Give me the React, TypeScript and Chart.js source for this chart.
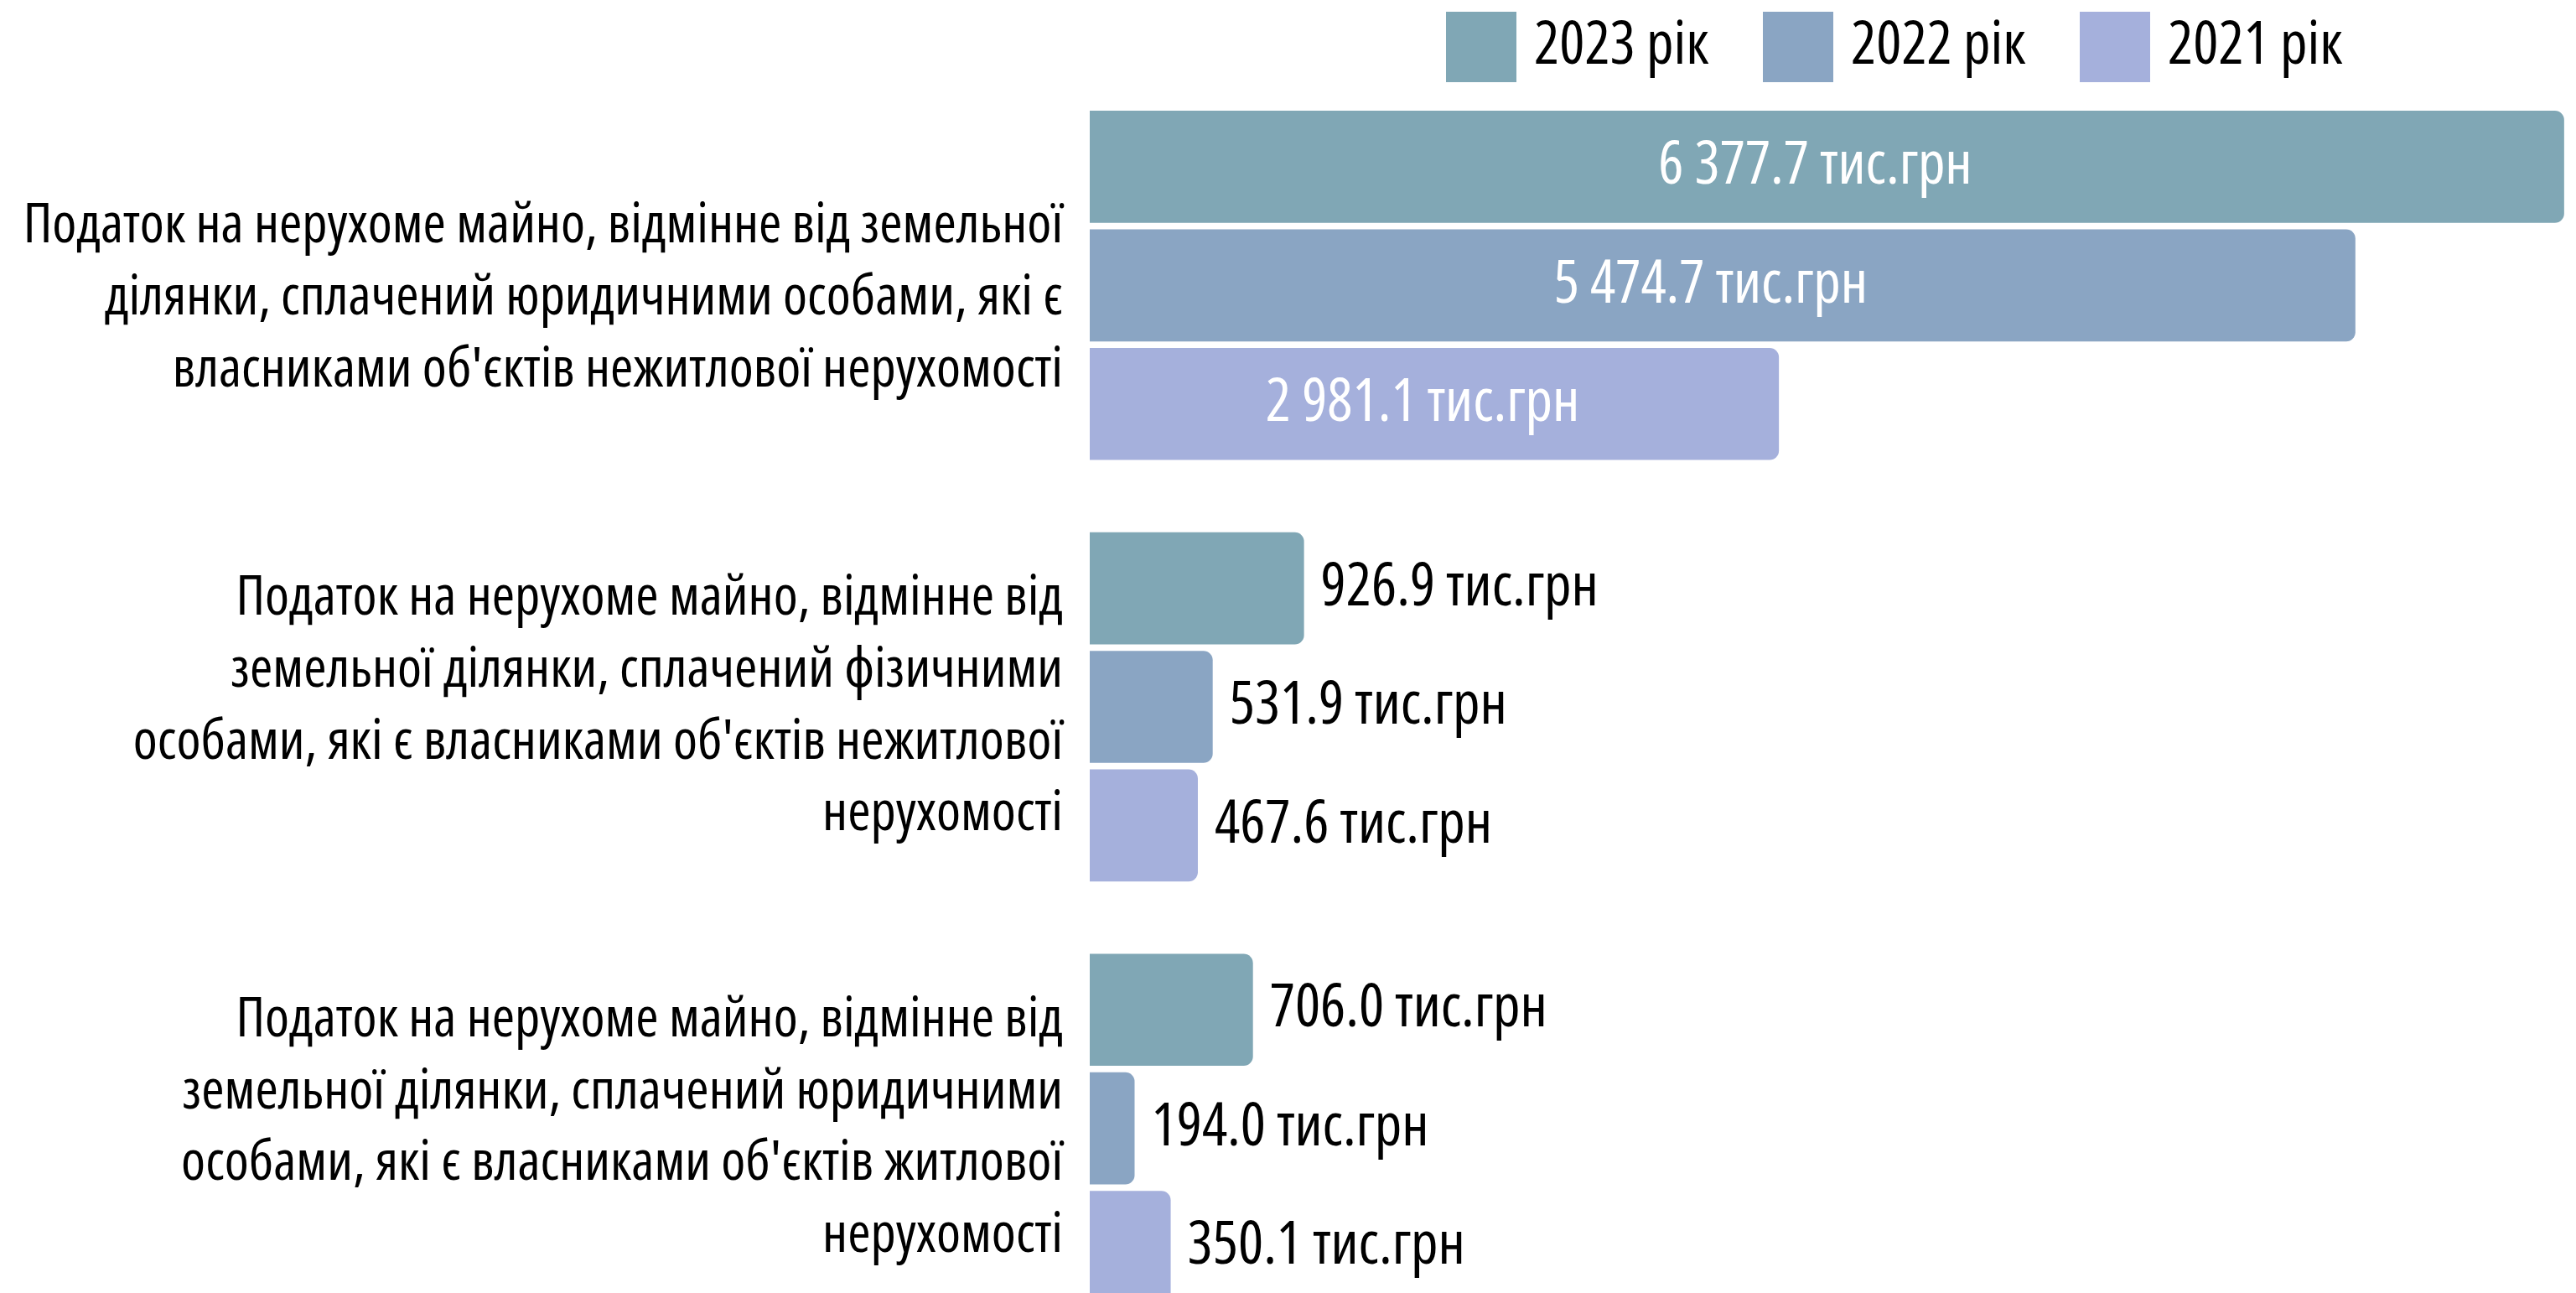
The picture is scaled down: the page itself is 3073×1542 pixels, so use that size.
import React, { useEffect, useRef } from "react";
import { Chart, registerables } from "chart.js";

Chart.register(...registerables);

// ---- data ----
const CATEGORIES: string[][] = [
  [
    "Податок на нерухоме майно, відмінне від земельної",
    "ділянки, сплачений юридичними особами, які є",
    "власниками об'єктів нежитлової нерухомості",
  ],
  [
    "Податок на нерухоме майно, відмінне від",
    "земельної ділянки, сплачений фізичними",
    "особами, які є власниками об'єктів нежитлової",
    "нерухомості",
  ],
  [
    "Податок на нерухоме майно, відмінне від",
    "земельної ділянки, сплачений юридичними",
    "особами, які є власниками об'єктів житлової",
    "нерухомості",
  ],
];
const SERIES_NAMES = ["2023 рік", "2022 рік", "2021 рік"];
const VALUES_2023 = [6377.7, 926.9, 706.0];
const VALUES_2022 = [5474.7, 531.9, 194.0];
const VALUES_2021 = [2981.1, 467.6, 350.1];
const UNIT = "тис.грн";
const X_MAX = 6400;

// ---- styles ----
const COLORS = ["#80A7B5", "#8AA5C3", "#A5B0DC"];
const FAMILY = '"Open Sans", "Roboto Condensed", sans-serif';
const STRETCH = "condensed";
const TICK_SIZE = 66;
const LABEL_SIZE = 71;
const CANVAS_W = 3057;
const CANVAS_H = 1589;
const AREA_LEFT = 1292;
const AREA_TOP = 81;
const LEGEND_BOX = 84; // visible legend square size
const LEGEND_STROKE = 29; // stroke used to enlarge the square (keeps text gap tight)
const LEGEND_STEP = 378;
const LEGEND_X = 1717;
const LEGEND_Y = 6;
const FIRST_LABEL_SHIFT = 16;

function fmt(v: number): string {
  const [i, d] = v.toFixed(1).split(".");
  return i.replace(/\B(?=(\d{3})+(?!\d))/g, " ") + "." + d;
}

const labelFont = `${STRETCH} ${LABEL_SIZE}px ${FAMILY}`;

const dataLabelPlugin = {
  id: "barValueLabels",
  afterDatasetsDraw(chart: any) {
    const ctx = chart.ctx as CanvasRenderingContext2D;
    ctx.save();
    ctx.font = labelFont;
    ctx.textBaseline = "middle";
    chart.data.datasets.forEach((ds: any, di: number) => {
      const meta = chart.getDatasetMeta(di);
      if (meta.hidden) return;
      meta.data.forEach((bar: any, i: number) => {
        const { x, y, base } = bar.getProps(["x", "y", "base"], true);
        const text = `${fmt(ds.data[i])} ${UNIT}`;
        const w = ctx.measureText(text).width;
        const len = x - base;
        if (w + 60 < len) {
          ctx.fillStyle = "#ffffff";
          ctx.textAlign = "center";
          ctx.fillText(text, (x + base) / 2 - 14, y);
        } else {
          ctx.fillStyle = "#000000";
          ctx.textAlign = "left";
          ctx.fillText(text, x + 20, y);
        }
      });
    });
    ctx.restore();
  },
};

const labelShiftPlugin = {
  id: "firstLabelShift",
  beforeDraw(chart: any) {
    const scale = chart.scales.y;
    if (!scale) return;
    const items = scale.getLabelItems();
    if (items && items.length && !(items as any).__shifted) {
      items[0].options.translation[1] += FIRST_LABEL_SHIFT;
      (items as any).__shifted = true;
    }
  },
};

export default function App() {
  const ref = useRef<HTMLCanvasElement>(null);
  useEffect(() => {
    document.documentElement.style.overflow = "hidden";
    document.body.style.overflow = "hidden";
    const canvas = ref.current!;
    const mctx = canvas.getContext("2d")!;
    mctx.font = labelFont;
    const tw = mctx.measureText(SERIES_NAMES[0]).width;
    const boxSide = LEGEND_BOX - LEGEND_STROKE;
    const legendPad = Math.max(4, LEGEND_STEP - boxSide - LABEL_SIZE / 2 - tw);
    const itemH = Math.max(LABEL_SIZE, boxSide);
    const legendH = itemH + legendPad + 10;
    const boxTopInItem = Math.max((LABEL_SIZE - boxSide) / 2, 0) - LEGEND_STROKE / 2;

    const legendPosPlugin = {
      id: "legendPos",
      afterLayout(chart: any) {
        const lg = chart.legend;
        if (!lg) return;
        const dx = LEGEND_X + LEGEND_STROKE / 2 - (lg.left + legendPad);
        const dy = LEGEND_Y - boxTopInItem - (lg.top + legendPad);
        lg.left += dx;
        lg.right += dx;
        lg.top += dy;
        lg.bottom += dy;
      },
    };

    const chart = new Chart(canvas, {
      type: "bar",
      data: {
        labels: CATEGORIES,
        datasets: [VALUES_2023, VALUES_2022, VALUES_2021].map((vals, k) => ({
          label: SERIES_NAMES[k],
          data: vals,
          backgroundColor: COLORS[k],
          borderColor: COLORS[k],
          borderWidth: 0,
          borderRadius: 11,
          borderSkipped: "start",
          categoryPercentage: 0.844,
          barPercentage: 0.945,
        })),
      },
      options: {
        indexAxis: "y",
        responsive: false,
        animation: false,
        devicePixelRatio: 1,
        layout: {
          padding: { top: AREA_TOP - legendH, left: 0, right: 0, bottom: 0 },
        },
        scales: {
          x: {
            display: false,
            min: 0,
            max: X_MAX,
          },
          y: {
            grid: { display: false, drawTicks: false },
            border: { display: false },
            ticks: {
              color: "#000000",
              padding: 32,
              autoSkip: false,
              font: {
                family: FAMILY,
                size: TICK_SIZE,
                weight: STRETCH as any,
                lineHeight: 1.3,
              },
            },
            afterFit(scale: any) {
              scale.width = AREA_LEFT;
              scale.paddingTop = 0;
              scale.paddingBottom = 0;
            },
          },
        },
        plugins: {
          legend: {
            display: true,
            position: "top",
            align: "start",
            labels: {
              boxWidth: boxSide,
              boxHeight: boxSide,
              padding: legendPad,
              color: "#000000",
              font: { family: FAMILY, size: LABEL_SIZE, weight: STRETCH as any },
              generateLabels(chart: any) {
                const items = Chart.defaults.plugins.legend.labels.generateLabels(chart);
                return items.map((it: any, k: number) => ({
                  ...it,
                  fillStyle: COLORS[k],
                  strokeStyle: COLORS[k],
                  lineWidth: LEGEND_STROKE,
                  lineJoin: "miter",
                  borderRadius: 0,
                }));
              },
            },
          },
          tooltip: { enabled: false },
        },
      },
      plugins: [dataLabelPlugin, legendPosPlugin, labelShiftPlugin],
    });
    return () => chart.destroy();
  }, []);
  return (
    <div style={{ width: CANVAS_W, height: CANVAS_H }}>
      <canvas ref={ref} width={CANVAS_W} height={CANVAS_H} style={{ display: "block" }} />
    </div>
  );
}
